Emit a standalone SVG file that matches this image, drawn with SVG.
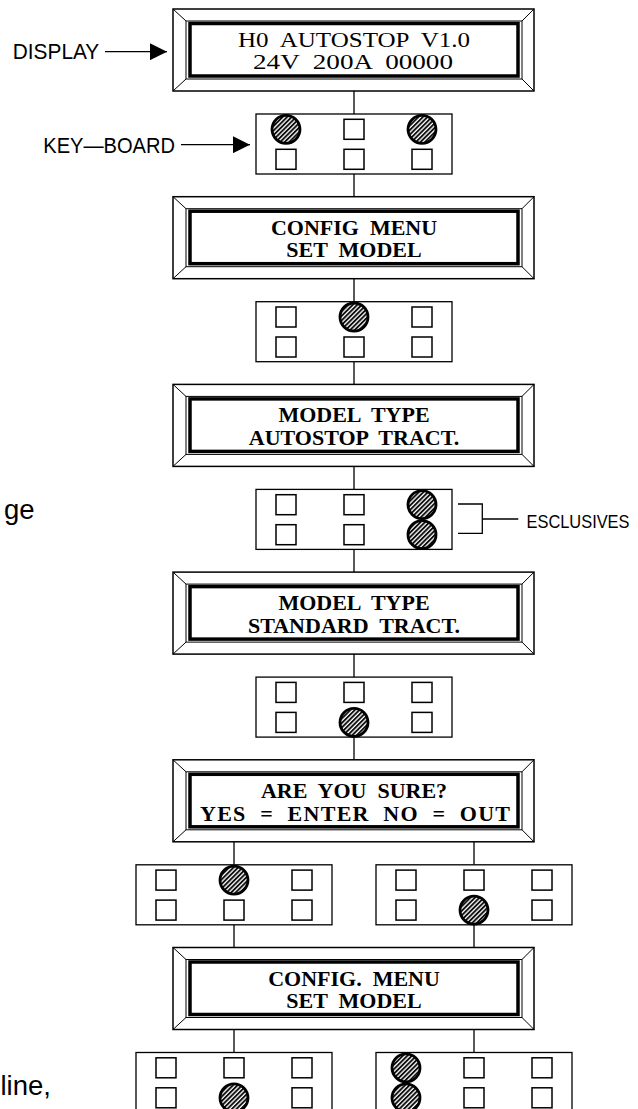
<svg xmlns="http://www.w3.org/2000/svg" xmlns:xlink="http://www.w3.org/1999/xlink" width="638" height="1109" viewBox="0 0 638 1109">
<style>
.bg{fill:#fff}
.outer{fill:none;stroke:#000;stroke-width:1.5}
.thin{fill:none;stroke:#000;stroke-width:1}
.thick{fill:none;stroke:#000;stroke-width:3.5}
.kb{fill:#fff;stroke:#000;stroke-width:1.3}
.sq{fill:#fff;stroke:#000;stroke-width:1.5}
.key{fill:url(#hatch);stroke:#000;stroke-width:2.8}
.conn{fill:none;stroke:#000;stroke-width:1.3}
.lcd{font-family:"Liberation Serif","Times New Roman",serif;font-size:22px;font-weight:bold;fill:#000;text-anchor:middle;white-space:pre}
.lcd1{font-family:"Liberation Serif","Times New Roman",serif;font-size:22px;font-weight:normal;fill:#000;text-anchor:middle;white-space:pre}
.lbl{font-family:"Liberation Sans",Arial,sans-serif;font-size:22px;fill:#000}
.page{font-family:"Liberation Sans",Arial,sans-serif;font-size:27.5px;fill:#000}
</style>
<defs>
<pattern id="hatch" patternUnits="userSpaceOnUse" width="3.2" height="10" patternTransform="rotate(45)">
<rect width="3.2" height="10" fill="#fff"/>
<line x1="1" y1="0" x2="1" y2="10" stroke="#000" stroke-width="1.8"/>
</pattern>
<g id="frame">
<rect class="outer" x="173" y="0" width="361" height="82"/>
<rect class="thin" x="186" y="12" width="336" height="58"/>
<rect class="thick" x="190" y="14.5" width="328" height="52.5"/>
<path class="thin" d="M173,0 L186,12 M534,0 L522,12 M173,82 L186,70 M534,82 L522,70"/>
</g>
<marker id="arrow" viewBox="0 0 17 17" refX="17" refY="8.5" markerWidth="17" markerHeight="17" markerUnits="userSpaceOnUse" orient="auto">
<path d="M0,0 L17,8.5 L0,17 Z" fill="#000"/>
</marker>
</defs>
<rect class="bg" x="0" y="0" width="638" height="1109"/>

<g id="connectors">
<line class="conn" x1="354" y1="91" x2="354" y2="114"/>
<line class="conn" x1="354" y1="174" x2="354" y2="196.7"/>
<line class="conn" x1="354" y1="278.7" x2="354" y2="301.7"/>
<line class="conn" x1="354" y1="361.7" x2="354" y2="384.4"/>
<line class="conn" x1="354" y1="466.4" x2="354" y2="489.4"/>
<line class="conn" x1="354" y1="549.4" x2="354" y2="572.1"/>
<line class="conn" x1="354" y1="654.1" x2="354" y2="677.1"/>
<line class="conn" x1="354" y1="737.1" x2="354" y2="759.8"/>
<line class="conn" x1="234" y1="841.8" x2="234" y2="864.8"/>
<line class="conn" x1="474" y1="841.8" x2="474" y2="864.8"/>
<line class="conn" x1="234" y1="924.8" x2="234" y2="947.5"/>
<line class="conn" x1="474" y1="924.8" x2="474" y2="947.5"/>
<line class="conn" x1="234" y1="1029.5" x2="234" y2="1052.5"/>
<line class="conn" x1="474" y1="1029.5" x2="474" y2="1052.5"/>
<line class="conn" x1="105" y1="51.7" x2="167" y2="51.7" marker-end="url(#arrow)"/>
<line class="conn" x1="181" y1="144.7" x2="250" y2="144.7" marker-end="url(#arrow)"/>
<path class="conn" d="M458,504 H482.3 V533.3 H458 M482.3,519 H518.3"/>
</g>

<g id="label-display"><text class="lbl" x="12.7" y="59" textLength="86.6" lengthAdjust="spacingAndGlyphs">DISPLAY</text></g>
<g id="label-keyboard"><text class="lbl" x="43.3" y="152.7" textLength="131.7" lengthAdjust="spacingAndGlyphs">KEY—BOARD</text></g>
<g id="label-esclusives"><text class="lbl" x="526.5" y="527.7" style="font-size:17.5px" textLength="103" lengthAdjust="spacingAndGlyphs">ESCLUSIVES</text></g>
<g id="page-text-1"><text class="page" x="4" y="519.3">ge</text></g>
<g id="page-text-2"><text class="page" x="0.5" y="1095">line,</text></g>

<g id="display1">
<use xlink:href="#frame" href="#frame" y="9"/>
<text class="lcd1" x="354" y="46.7" xml:space="preserve" textLength="232" lengthAdjust="spacingAndGlyphs">H0  AUTOSTOP  V1.0</text>
<text class="lcd1" x="353" y="69.3" xml:space="preserve" textLength="200" lengthAdjust="spacingAndGlyphs">24V  200A  00000</text>
</g>

<g id="keyboard1">
<rect class="kb" x="256" y="114" width="196" height="60"/>
<circle class="key" cx="286" cy="129.3" r="14"/>
<rect class="sq" x="344" y="119.3" width="20" height="20"/>
<circle class="key" cx="422" cy="129.3" r="14"/>
<rect class="sq" x="276" y="149.3" width="20" height="20"/>
<rect class="sq" x="344" y="149.3" width="20" height="20"/>
<rect class="sq" x="412" y="149.3" width="20" height="20"/>
</g>

<g id="display2">
<use xlink:href="#frame" href="#frame" y="196.7"/>
<text class="lcd" x="354" y="235" xml:space="preserve">CONFIG  MENU</text>
<text class="lcd" x="354" y="257.3" xml:space="preserve">SET  MODEL</text>
</g>

<g id="keyboard2">
<rect class="kb" x="256" y="301.7" width="196" height="60"/>
<rect class="sq" x="276" y="307" width="20" height="20"/>
<circle class="key" cx="354" cy="317" r="14"/>
<rect class="sq" x="412" y="307" width="20" height="20"/>
<rect class="sq" x="276" y="337" width="20" height="20"/>
<rect class="sq" x="344" y="337" width="20" height="20"/>
<rect class="sq" x="412" y="337" width="20" height="20"/>
</g>

<g id="display3">
<use xlink:href="#frame" href="#frame" y="384.4"/>
<text class="lcd" x="354" y="422.4" xml:space="preserve">MODEL  TYPE</text>
<text class="lcd" x="354" y="444.9" xml:space="preserve">AUTOSTOP  TRACT.</text>
</g>

<g id="keyboard3">
<rect class="kb" x="256" y="489.4" width="196" height="60"/>
<rect class="sq" x="276" y="494.7" width="20" height="20"/>
<rect class="sq" x="344" y="494.7" width="20" height="20"/>
<circle class="key" cx="422" cy="504.7" r="14"/>
<rect class="sq" x="276" y="524.7" width="20" height="20"/>
<rect class="sq" x="344" y="524.7" width="20" height="20"/>
<circle class="key" cx="422" cy="534.7" r="14"/>
</g>

<g id="display4">
<use xlink:href="#frame" href="#frame" y="572.1"/>
<text class="lcd" x="354" y="610.1" xml:space="preserve">MODEL  TYPE</text>
<text class="lcd" x="354" y="632.6" xml:space="preserve">STANDARD  TRACT.</text>
</g>

<g id="keyboard4">
<rect class="kb" x="256" y="677.1" width="196" height="60"/>
<rect class="sq" x="276" y="682.4" width="20" height="20"/>
<rect class="sq" x="344" y="682.4" width="20" height="20"/>
<rect class="sq" x="412" y="682.4" width="20" height="20"/>
<rect class="sq" x="276" y="712.4" width="20" height="20"/>
<circle class="key" cx="354" cy="722.4" r="14"/>
<rect class="sq" x="412" y="712.4" width="20" height="20"/>
</g>

<g id="display5">
<use xlink:href="#frame" href="#frame" y="759.8"/>
<text class="lcd" x="354" y="797.8" xml:space="preserve">ARE  YOU  SURE?</text>
<text class="lcd" x="355" y="820.5" xml:space="preserve" textLength="310" lengthAdjust="spacing">YES  =  ENTER  NO  =  OUT</text>
</g>

<g id="keyboard5-left">
<rect class="kb" x="136" y="864.8" width="196" height="60"/>
<rect class="sq" x="156" y="870.1" width="20" height="20"/>
<circle class="key" cx="234" cy="880.1" r="14"/>
<rect class="sq" x="292" y="870.1" width="20" height="20"/>
<rect class="sq" x="156" y="900.1" width="20" height="20"/>
<rect class="sq" x="224" y="900.1" width="20" height="20"/>
<rect class="sq" x="292" y="900.1" width="20" height="20"/>
</g>

<g id="keyboard5-right">
<rect class="kb" x="376" y="864.8" width="196" height="60"/>
<rect class="sq" x="396" y="870.1" width="20" height="20"/>
<rect class="sq" x="464" y="870.1" width="20" height="20"/>
<rect class="sq" x="532" y="870.1" width="20" height="20"/>
<rect class="sq" x="396" y="900.1" width="20" height="20"/>
<circle class="key" cx="474" cy="910.1" r="14"/>
<rect class="sq" x="532" y="900.1" width="20" height="20"/>
</g>

<g id="display6">
<use xlink:href="#frame" href="#frame" y="947.5"/>
<text class="lcd" x="354" y="985.5" xml:space="preserve">CONFIG.  MENU</text>
<text class="lcd" x="354" y="1008" xml:space="preserve">SET  MODEL</text>
</g>

<g id="keyboard6-left">
<rect class="kb" x="136" y="1052.5" width="196" height="60"/>
<rect class="sq" x="156" y="1057.8" width="20" height="20"/>
<rect class="sq" x="224" y="1057.8" width="20" height="20"/>
<rect class="sq" x="292" y="1057.8" width="20" height="20"/>
<rect class="sq" x="156" y="1087.8" width="20" height="20"/>
<circle class="key" cx="234" cy="1097.8" r="14"/>
<rect class="sq" x="292" y="1087.8" width="20" height="20"/>
</g>

<g id="keyboard6-right">
<rect class="kb" x="376" y="1052.5" width="196" height="60"/>
<circle class="key" cx="406" cy="1067.8" r="14"/>
<rect class="sq" x="464" y="1057.8" width="20" height="20"/>
<rect class="sq" x="532" y="1057.8" width="20" height="20"/>
<circle class="key" cx="406" cy="1097.8" r="14"/>
<rect class="sq" x="464" y="1087.8" width="20" height="20"/>
<rect class="sq" x="532" y="1087.8" width="20" height="20"/>
</g>
</svg>
